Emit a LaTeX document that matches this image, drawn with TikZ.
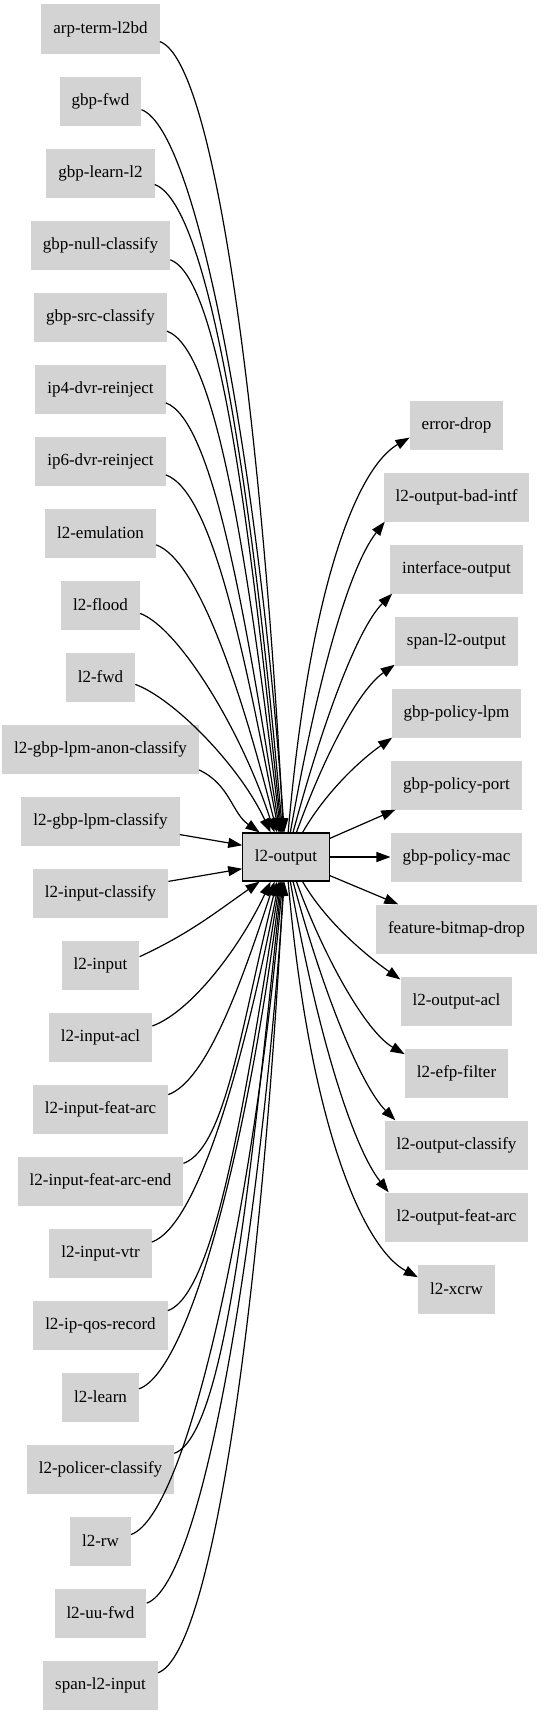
\documentclass[tikz,border=0pt]{standalone}
\usepackage{fontspec}
\setmainfont{Liberation Serif}
\usetikzlibrary{arrows.meta}
\definecolor{boxgray}{HTML}{D3D3D3}

\begin{document}
\begin{tikzpicture}
[x=1bp, y=1bp,
>={Triangle[length=14bp,width=10bp]},
box/.style={fill=boxgray, inner xsep=12bp, minimum height=49bp,
  font=\fontsize{17bp}{20bp}\selectfont},
hub/.style={box, draw=black, line width=1.3bp, minimum height=48bp},
edge/.style={->, line width=1.2bp}]
  \useasboundingbox (0,0) rectangle (543,-1715);
  % feeding nodes
  \node[box] (arp) at (100.5,-29) {arp-term-l2bd};
  \node[box] (gbpfwd) at (100.5,-101) {gbp-fwd};
  \node[box] (gbplearn) at (100.5,-173) {gbp-learn-l2};
  \node[box] (gbpnull) at (100.5,-245) {gbp-null-classify};
  \node[box] (gbpsrc) at (100.5,-317) {gbp-src-classify};
  \node[box] (ipfour) at (100.5,-389) {ip4-dvr-reinject};
  \node[box] (ipsix) at (100.5,-461) {ip6-dvr-reinject};
  \node[box] (emul) at (100.5,-533) {l2-emulation};
  \node[box] (flood) at (100.5,-605) {l2-flood};
  \node[box] (fwd) at (100.5,-677) {l2-fwd};
  \node[box] (anon) at (100.5,-749) {l2-gbp-lpm-anon-classify};
  \node[box] (lpm) at (100.5,-821) {l2-gbp-lpm-classify};
  \node[box] (inclass) at (100.5,-893) {l2-input-classify};
  \node[box] (input) at (100.5,-965) {l2-input};
  \node[box] (inacl) at (100.5,-1037) {l2-input-acl};
  \node[box] (featarc) at (100.5,-1109) {l2-input-feat-arc};
  \node[box] (featend) at (100.5,-1181) {l2-input-feat-arc-end};
  \node[box] (vtr) at (100.5,-1253) {l2-input-vtr};
  \node[box] (qos) at (100.5,-1325) {l2-ip-qos-record};
  \node[box] (learn) at (100.5,-1397) {l2-learn};
  \node[box] (policer) at (100.5,-1469) {l2-policer-classify};
  \node[box] (rw) at (100.5,-1541) {l2-rw};
  \node[box] (uufwd) at (100.5,-1613) {l2-uu-fwd};
  \node[box] (spanin) at (100.5,-1685) {span-l2-input};
  % the hub
  \node[hub] (out) at (286,-857) {l2-output};
  % next nodes
  \node[box] (errdrop) at (456.5,-425) {error-drop};
  \node[box] (badintf) at (456.5,-497) {l2-output-bad-intf};
  \node[box] (ifout) at (456.5,-569) {interface-output};
  \node[box] (spanout) at (456.5,-641) {span-l2-output};
  \node[box] (pollpm) at (456.5,-713) {gbp-policy-lpm};
  \node[box] (polport) at (456.5,-785) {gbp-policy-port};
  \node[box] (polmac) at (456.5,-857) {gbp-policy-mac};
  \node[box] (bitmap) at (456.5,-929) {feature-bitmap-drop};
  \node[box] (outacl) at (456.5,-1001) {l2-output-acl};
  \node[box] (efp) at (456.5,-1073) {l2-efp-filter};
  \node[box] (outclass) at (456.5,-1145) {l2-output-classify};
  \node[box] (outfeat) at (456.5,-1217) {l2-output-feat-arc};
  \node[box] (xcrw) at (456.5,-1289) {l2-xcrw};
  % into l2-output
  \draw[edge] (arp.-12) to[out=-20,in=93,out distance=60bp,in distance=400bp] (out.96);
  \draw[edge] (gbpfwd.-12) to[out=-20,in=94,out distance=60bp,in distance=360bp] (out.94);
  \draw[edge] (gbplearn.-12) to[out=-20,in=95,out distance=60bp,in distance=325bp] (out.98);
  \draw[edge] (gbpnull.-12) to[out=-20,in=96,out distance=55bp,in distance=290bp] (out.100);
  \draw[edge] (gbpsrc.-12) to[out=-20,in=97,out distance=55bp,in distance=255bp] (out.102);
  \draw[edge] (ipfour.-12) to[out=-20,in=99,out distance=50bp,in distance=220bp] (out.104);
  \draw[edge] (ipsix.-12) to[out=-20,in=101,out distance=50bp,in distance=180bp] (out.106);
  \draw[edge] (emul.-12) to[out=-20,in=104,out distance=45bp,in distance=145bp] (out.110);
  \draw[edge] (flood.-12) to[out=-20,in=108,out distance=40bp,in distance=110bp] (out.115);
  \draw[edge] (fwd.-12) to[out=-20,in=115,out distance=40bp,in distance=75bp] (out.122);
  \draw[edge] (anon.-12) to[out=-25,in=145] (out.137);
  \draw[edge] (lpm) -- (out.165);
  \draw[edge] (inclass) -- (out.-165);
  \draw[edge] (input.12) to[out=25,in=-145] (out.-137);
  \draw[edge] (inacl.12) to[out=20,in=-115,out distance=40bp,in distance=75bp] (out.-122);
  \draw[edge] (featarc.12) to[out=20,in=-108,out distance=40bp,in distance=110bp] (out.-115);
  \draw[edge] (featend.12) to[out=20,in=-104,out distance=45bp,in distance=145bp] (out.-110);
  \draw[edge] (vtr.12) to[out=20,in=-101,out distance=50bp,in distance=180bp] (out.-106);
  \draw[edge] (qos.12) to[out=20,in=-99,out distance=50bp,in distance=220bp] (out.-104);
  \draw[edge] (learn.12) to[out=20,in=-97,out distance=55bp,in distance=255bp] (out.-102);
  \draw[edge] (policer.12) to[out=20,in=-96,out distance=55bp,in distance=290bp] (out.-100);
  \draw[edge] (rw.12) to[out=20,in=-95,out distance=60bp,in distance=325bp] (out.-98);
  \draw[edge] (uufwd.12) to[out=20,in=-94,out distance=60bp,in distance=360bp] (out.-94);
  \draw[edge] (spanin.12) to[out=20,in=-93,out distance=60bp,in distance=400bp] (out.-96);
  % out of l2-output
  \draw[edge] (out.85) to[out=85,in=210,out distance=250bp,in distance=60bp] (errdrop.195);
  \draw[edge] (out.80) to[out=80,in=232,out distance=150bp,in distance=60bp] (badintf.199);
  \draw[edge] (out.74) to[out=75,in=225,out distance=110bp,in distance=50bp] (ifout.201);
  \draw[edge] (out.67) to[out=70,in=215,out distance=80bp,in distance=45bp] (spanout.201);
  \draw[edge] (out.56) to[out=60,in=215,out distance=50bp,in distance=35bp] (pollpm.201);
  \draw[edge] (out.23) -- (polport.202);
  \draw[edge] (out) -- (polmac);
  \draw[edge] (out.-23) -- (bitmap.157);
  \draw[edge] (out.-56) to[out=-60,in=145,out distance=50bp,in distance=35bp] (outacl.159);
  \draw[edge] (out.-67) to[out=-70,in=150,out distance=80bp,in distance=45bp] (efp.160);
  \draw[edge] (out.-74) to[out=-75,in=135,out distance=110bp,in distance=50bp] (outclass.158);
  \draw[edge] (out.-80) to[out=-80,in=128,out distance=150bp,in distance=60bp] (outfeat.160);
  \draw[edge] (out.-85) to[out=-85,in=152,out distance=250bp,in distance=60bp] (xcrw.163);
\end{tikzpicture}
\end{document}
